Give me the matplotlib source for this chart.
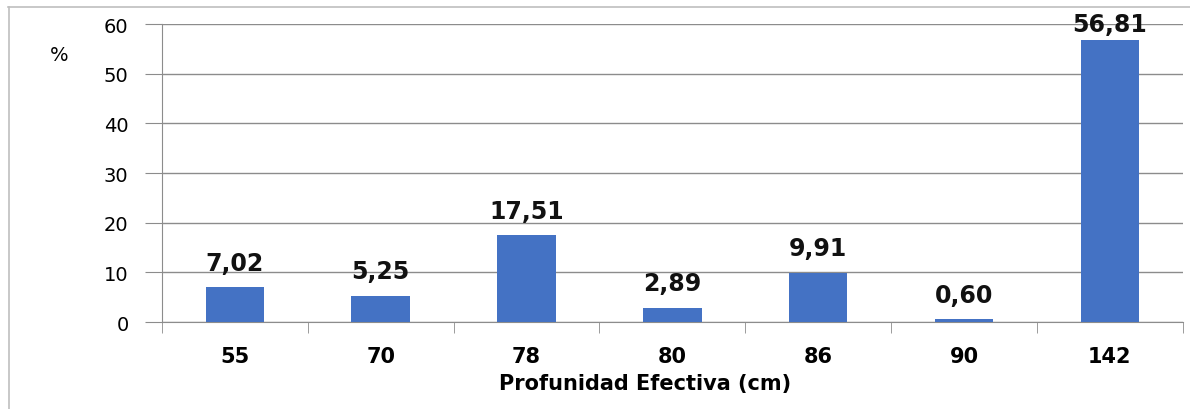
import matplotlib
matplotlib.use("Agg")
import matplotlib.pyplot as plt
from matplotlib.lines import Line2D
from matplotlib.ticker import FixedLocator

# depth classes and share of samples (%)
depths = ["55", "70", "78", "80", "86", "90", "142"]
percent = [7.02, 5.25, 17.51, 2.89, 9.91, 0.60, 56.81]
labels = ["7,02", "5,25", "17,51", "2,89", "9,91", "0,60", "56,81"]

bar_color = "#4472C4"
grid_color = "#8c8c8c"

fig = plt.figure(figsize=(11.9, 4.1), dpi=100)
ax = fig.add_axes([0.136, 0.212, 0.858, 0.727])

xs = list(range(len(depths)))
ax.bar(xs, percent, width=0.4, color=bar_color, zorder=3)

for x, v, lab in zip(xs, percent, labels):
    # labels near the top get squeezed inside the plot area
    off = 3 if v > 50 else 9
    ax.annotate(lab, (x, v), xytext=(0, off), textcoords="offset points",
                ha="center", va="bottom", fontsize=17, fontweight="bold",
                color="#111111", zorder=4)

ax.set_xlim(-0.5, len(depths) - 0.5)
ax.set_ylim(0, 60)
ax.set_yticks(range(0, 61, 10))
ax.set_xticks(xs)
ax.set_xticklabels(depths, fontsize=15, fontweight="bold")
ax.xaxis.set_minor_locator(FixedLocator([i - 0.5 for i in range(len(depths) + 1)]))
ax.tick_params(axis="x", which="major", length=0, pad=17)
ax.tick_params(axis="x", which="minor", length=8, color=grid_color, direction="out")
ax.tick_params(axis="y", length=12, color=grid_color, labelsize=14, pad=12)

ax.yaxis.grid(True, color=grid_color, linewidth=1, zorder=0)
for s in ["top", "right"]:
    ax.spines[s].set_visible(False)
ax.spines["left"].set_color(grid_color)
ax.spines["bottom"].set_color(grid_color)

ax.set_xlabel("Profunidad Efectiva (cm)", fontsize=15, fontweight="bold")
ax.xaxis.set_label_coords(0.473, -0.17)
fig.text(0.05, 0.865, "%", fontsize=14, ha="center", va="center")

# outer chart frame
fig.add_artist(Line2D([8.5 / 1190, 8.5 / 1190], [0, 1 - 8 / 410], color="#bfbfbf", lw=1.2))
fig.add_artist(Line2D([8 / 1190, 1], [1 - 8 / 410, 1 - 8 / 410], color="#bfbfbf", lw=1.2))

fig.savefig("out.png", dpi=100)
